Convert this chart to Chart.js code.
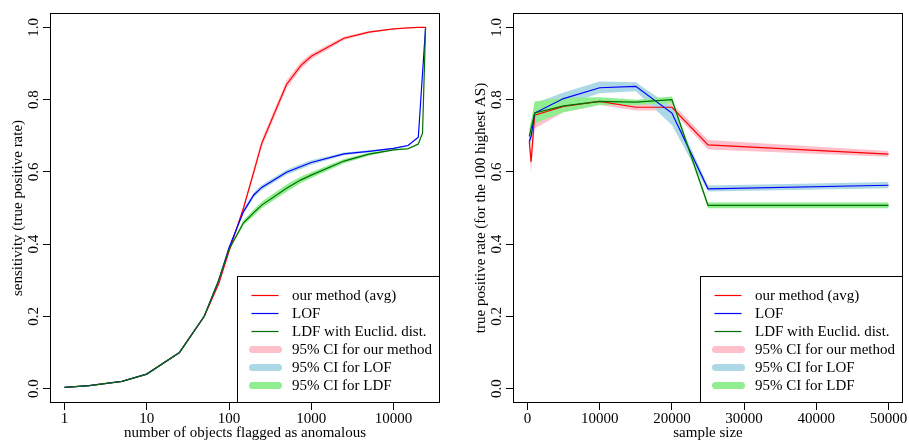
<!DOCTYPE html>
<html>
<head>
<meta charset="utf-8">
<script src="https://cdn.jsdelivr.net/npm/chart.js@4.4.1/dist/chart.umd.min.js"></script>
<style>
html, body { margin: 0; padding: 0; background: #fff; }
#wrap { position: relative; width: 909px; height: 442px; }
#left { position: absolute; left: 0; top: 0; }
#right { position: absolute; left: 455px; top: 0; }
</style>
</head>
<body>
<div id="wrap">
<canvas id="left" width="455" height="442"></canvas>
<canvas id="right" width="454" height="442"></canvas>
</div>
<script>
// left panel: sensitivity vs. number of objects flagged (log x)
const flagged = [1, 2, 5, 10, 25, 50, 75, 100, 150, 200, 250, 500, 750, 1000, 2500, 5000, 10000, 15000, 20000, 24500];
const flaggedLdf = [1, 2, 5, 10, 25, 50, 75, 100, 150, 200, 250, 500, 750, 1000, 2500, 5000, 10000, 15000, 20000, 22500, 24500];
const sensOurs = [0.003, 0.008, 0.02, 0.04, 0.1, 0.2, 0.29, 0.38, 0.5, 0.6, 0.679, 0.842, 0.895, 0.92, 0.97, 0.987, 0.996, 0.999, 1.0, 1.0];
const sensOursLo = [0.003, 0.008, 0.02, 0.04, 0.1, 0.2, 0.29, 0.377, 0.494, 0.59, 0.668, 0.831, 0.885, 0.912, 0.965, 0.984, 0.995, 0.998, 1.0, 1.0];
const sensOursHi = [0.003, 0.008, 0.02, 0.04, 0.1, 0.2, 0.29, 0.383, 0.506, 0.61, 0.69, 0.853, 0.905, 0.928, 0.975, 0.99, 0.997, 1.0, 1.0, 1.0];
const sensLof = [0.003, 0.008, 0.02, 0.04, 0.1, 0.2, 0.3, 0.39, 0.49, 0.536, 0.557, 0.599, 0.615, 0.626, 0.65, 0.657, 0.665, 0.673, 0.696, 1.0];
const sensLofLo = [0.003, 0.008, 0.02, 0.04, 0.1, 0.2, 0.3, 0.388, 0.484, 0.529, 0.55, 0.592, 0.608, 0.62, 0.646, 0.654, 0.663, 0.671, 0.694, 1.0];
const sensLofHi = [0.003, 0.008, 0.02, 0.04, 0.1, 0.2, 0.3, 0.392, 0.496, 0.543, 0.564, 0.606, 0.622, 0.632, 0.654, 0.66, 0.667, 0.675, 0.698, 1.0];
const sensLdf = [0.003, 0.008, 0.02, 0.04, 0.1, 0.2, 0.3, 0.385, 0.459, 0.487, 0.508, 0.555, 0.578, 0.591, 0.63, 0.649, 0.661, 0.664, 0.677, 0.707, 1.0];
const sensLdfLo = [0.003, 0.008, 0.02, 0.04, 0.1, 0.2, 0.3, 0.383, 0.452, 0.478, 0.499, 0.545, 0.569, 0.583, 0.624, 0.645, 0.659, 0.662, 0.675, 0.705, 1.0];
const sensLdfHi = [0.003, 0.008, 0.02, 0.04, 0.1, 0.2, 0.3, 0.387, 0.466, 0.496, 0.517, 0.565, 0.587, 0.599, 0.636, 0.653, 0.663, 0.666, 0.679, 0.709, 1.0];
const flaggedTicks = [1, 10, 100, 1000, 10000];

// right panel: true positive rate vs. sample size
const sampleSize = [250, 500, 1000, 5000, 10000, 15000, 20000, 25000, 50000];
const tprOurs = [0.684, 0.628, 0.757, 0.781, 0.795, 0.779, 0.779, 0.675, 0.649];
const tprOursLo = [0.66, 0.6, 0.72, 0.765, 0.785, 0.77, 0.77, 0.662, 0.642];
const tprOursHi = [0.7, 0.655, 0.77, 0.79, 0.8, 0.79, 0.79, 0.688, 0.658];
const tprLof = [0.684, 0.698, 0.763, 0.803, 0.833, 0.837, 0.763, 0.553, 0.563];
const tprLofLo = [0.665, 0.68, 0.73, 0.785, 0.818, 0.823, 0.73, 0.546, 0.555];
const tprLofHi = [0.7, 0.72, 0.79, 0.82, 0.85, 0.848, 0.78, 0.562, 0.572];
const tprLdf = [0.698, 0.72, 0.763, 0.783, 0.795, 0.793, 0.8, 0.507, 0.507];
const tprLdfLo = [0.68, 0.7, 0.735, 0.765, 0.785, 0.785, 0.79, 0.499, 0.499];
const tprLdfHi = [0.72, 0.74, 0.795, 0.805, 0.807, 0.8, 0.809, 0.515, 0.515];
const sampleTicks = [0, 10000, 20000, 30000, 40000, 50000];

const yTicks = [0, 0.2, 0.4, 0.6, 0.8, 1.0];
const legendNames = ['our method (avg)', 'LOF', 'LDF with Euclid. dist.', '95% CI for our method', '95% CI for LOF', '95% CI for LDF'];

const RED = '#ff0000', BLUE = '#0000ff', GREEN = '#006e00';
const PINK = '#ffc0cb', LBLUE = '#add8e6', LGREEN = '#90ee90';
const FONT = { family: '"Liberation Serif", "Times New Roman", serif', size: 15 };

function pts(xs, ys) {
    return xs.map((x, i) => ({ x: x, y: ys[i] }));
}

function band(xs, lo, hi, color, order) {
    return [
        { data: pts(xs, lo), borderColor: 'transparent', borderWidth: 1, pointRadius: 0, fill: false, order: order },
        { data: pts(xs, hi), borderColor: 'transparent', borderWidth: 1, backgroundColor: color, pointRadius: 0, fill: '-1', order: order },
    ];
}

function line(xs, ys, color, order) {
    return { data: pts(xs, ys), borderColor: color, borderWidth: 1.2, pointRadius: 0, fill: false, order: order };
}

// box around plot + legend in the lower right corner
const boxAndLegend = {
    id: 'boxAndLegend',
    afterDraw(chart) {
        const ctx = chart.ctx;
        const a = chart.chartArea;
        ctx.save();
        ctx.strokeStyle = '#000';
        ctx.lineWidth = 1;
        const L = Math.round(a.left) + 0.5, T = Math.round(a.top) + 0.5;
        const R = Math.round(a.right) - 0.5, B = Math.round(a.bottom) - 0.5;
        ctx.strokeRect(L, T, R - L, B - T);

        const w = 203, h = 127;
        const x0 = Math.round(R - w) + 0.5, y0 = Math.round(B - h) + 0.5;
        ctx.fillStyle = '#fff';
        ctx.fillRect(x0, y0, R - x0, B - y0);
        ctx.strokeRect(x0, y0, R - x0, B - y0);

        const cols = [RED, BLUE, GREEN, PINK, LBLUE, LGREEN];
        ctx.font = FONT.size + 'px ' + FONT.family;
        ctx.textBaseline = 'middle';
        ctx.textAlign = 'left';
        legendNames.forEach((name, i) => {
            const y = y0 + 19 + i * 18;
            ctx.beginPath();
            ctx.strokeStyle = cols[i];
            if (i < 3) {
                ctx.lineWidth = 1.2;
                ctx.lineCap = 'butt';
                ctx.moveTo(x0 + 14, y);
                ctx.lineTo(x0 + 41, y);
            } else {
                ctx.lineWidth = 7;
                ctx.lineCap = 'round';
                ctx.moveTo(x0 + 15, y);
                ctx.lineTo(x0 + 41, y);
            }
            ctx.stroke();
            ctx.fillStyle = '#000';
            ctx.fillText(name, x0 + 54.5, y + 1);
        });
        ctx.restore();
    },
};

function makeChart(el, cfg) {
    return new Chart(el, {
        type: 'line',
        data: { datasets: cfg.datasets },
        options: {
            responsive: false,
            animation: false,
            layout: { padding: cfg.padding },
            plugins: {
                legend: { display: false },
                tooltip: { enabled: false },
                filler: { drawTime: 'beforeDatasetsDraw' },
            },
            elements: { line: { tension: 0 } },
            scales: {
                x: {
                    type: cfg.xType,
                    min: cfg.xMin,
                    max: cfg.xMax,
                    afterBuildTicks: (s) => { s.ticks = cfg.xTicks.map((v) => ({ value: v })); },
                    afterFit: (s) => { s.height = 39; },
                    ticks: { font: FONT, color: '#000', padding: 0, autoSkip: false, maxRotation: 0, callback: (v) => String(v) },
                    grid: { display: true, drawOnChartArea: false, drawTicks: true, tickLength: 7, color: '#000', tickColor: '#000' },
                    border: { display: false },
                    title: { display: true, text: cfg.xTitle, font: FONT, color: '#000', padding: { top: 0, bottom: 0 } },
                },
                y: {
                    type: 'linear',
                    min: -0.04,
                    max: 1.04,
                    afterBuildTicks: (s) => { s.ticks = yTicks.map((v) => ({ value: v })); },
                    afterFit: (s) => { s.width = cfg.yWidth; },
                    ticks: { font: FONT, color: '#000', padding: 0, autoSkip: false, minRotation: 90, maxRotation: 90, crossAlign: 'center', callback: (v) => v.toFixed(1) },
                    grid: { display: true, drawOnChartArea: false, drawTicks: true, tickLength: 7, color: '#000', tickColor: '#000' },
                    border: { display: false },
                    title: { display: true, text: cfg.yTitle, font: FONT, color: '#000', padding: { top: cfg.yTitlePad, bottom: 0 } },
                },
            },
        },
        plugins: [boxAndLegend],
    });
}

makeChart(document.getElementById('left'), {
    datasets: [
        ...band(flagged, sensOursLo, sensOursHi, PINK, 30),
        ...band(flagged, sensLofLo, sensLofHi, LBLUE, 20),
        ...band(flaggedLdf, sensLdfLo, sensLdfHi, LGREEN, 10),
        line(flagged, sensOurs, RED, 3),
        line(flagged, sensLof, BLUE, 2),
        line(flaggedLdf, sensLdf, GREEN, 1),
    ],
    padding: { left: 0, right: 15, top: 13, bottom: 0 },
    xType: 'logarithmic',
    xMin: 0.667,
    xMax: 36700,
    xTicks: flaggedTicks,
    xTitle: 'number of objects flagged as anomalous',
    yTitle: 'sensitivity (true positive rate)',
    yWidth: 50,
    yTitlePad: 9,
});

makeChart(document.getElementById('right'), {
    datasets: [
        ...band(sampleSize, tprOursLo, tprOursHi, PINK, 30),
        ...band(sampleSize, tprLofLo, tprLofHi, LBLUE, 20),
        ...band(sampleSize, tprLdfLo, tprLdfHi, LGREEN, 10),
        line(sampleSize, tprOurs, RED, 3),
        line(sampleSize, tprLof, BLUE, 2),
        line(sampleSize, tprLdf, GREEN, 1),
    ],
    padding: { left: 0, right: 6, top: 13, bottom: 0 },
    xType: 'linear',
    xMin: -2000,
    xMax: 52000,
    xTicks: sampleTicks,
    xTitle: 'sample size',
    yTitle: 'true positive rate (for the 100 highest AS)',
    yWidth: 58,
    yTitlePad: 17,
});
</script>
</body>
</html>
